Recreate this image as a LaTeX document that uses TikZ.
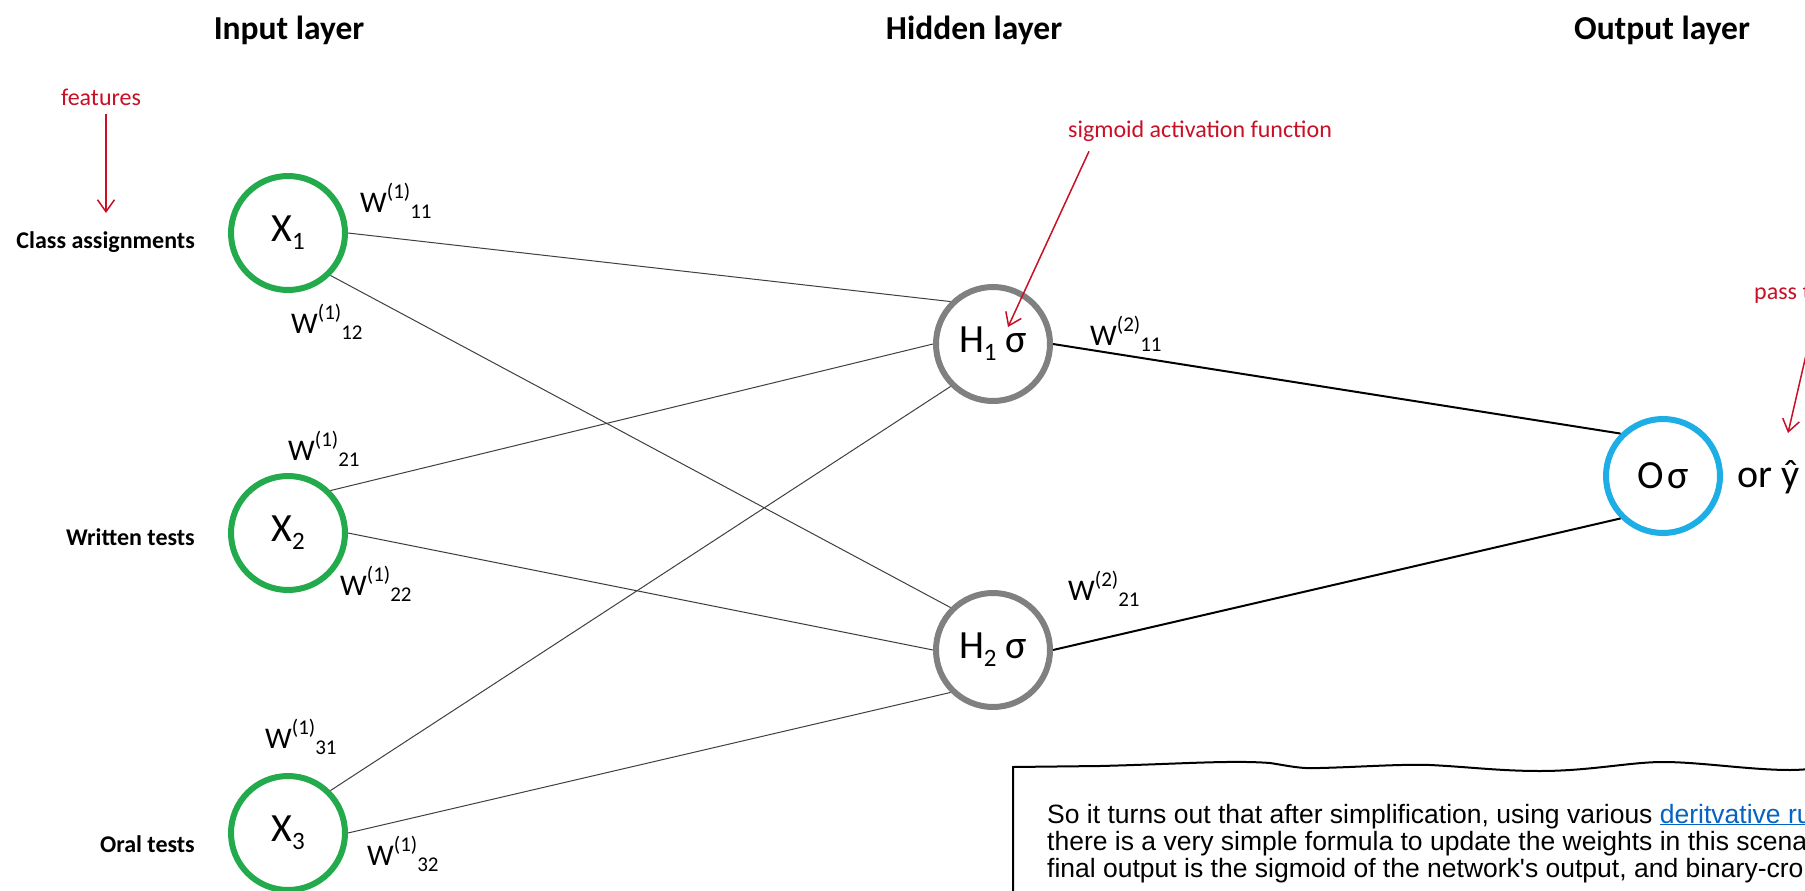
\documentclass[tikz,border=0pt]{standalone}
\usepackage{fontspec}
\setmainfont{Carlito}
\newfontfamily\notefont{Liberation Sans}
\usetikzlibrary{positioning,arrows.meta}

\definecolor{ingreen}{RGB}{34,170,76}
\definecolor{hidgray}{RGB}{128,128,128}
\definecolor{outblue}{RGB}{30,174,230}
\definecolor{notered}{RGB}{200,16,38}
\definecolor{linkblue}{RGB}{5,99,193}

% weight label: W, superscript, then subscript
\newcommand{\wlab}[2]{W\raisebox{14pt}{\fontsize{21}{21}\selectfont(#1)}\raisebox{-6pt}{\fontsize{21}{21}\selectfont #2}}
% neuron subscript
\newcommand{\nsub}[1]{\raisebox{-8pt}{\fontsize{25}{25}\selectfont #1}}

\tikzset{
  neuron/.style={circle, minimum size=114pt, inner sep=0pt, line width=6pt, font=\fontsize{40}{40}\selectfont},
  input/.style={neuron, draw=ingreen},
  hidden/.style={neuron, draw=hidgray},
  output/.style={neuron, draw=outblue},
  layer/.style={font=\bfseries\fontsize{33.5}{33.5}\selectfont},
  feature/.style={anchor=base east, inner sep=0pt, font=\bfseries\fontsize{24}{24}\selectfont},
  weight/.style={anchor=base west, inner sep=0pt, font=\fontsize{30}{30}\selectfont},
  remark/.style={inner sep=0pt, text=notered, font=\fontsize{24}{24}\selectfont},
  noteline/.style={anchor=base west, inner sep=0pt, font=\notefont\fontsize{26.5}{27}\selectfont},
  link/.style={draw=black!75, line width=1pt},
  outlink/.style={draw=black, line width=2pt},
  pointer/.style={draw=notered, line width=1.5pt, -{Straight Barb[length=12pt,width=17pt]}}
}

\begin{document}
\begin{tikzpicture}[x=1pt,y=-1pt,node distance=300pt]
  \clip (0,0) rectangle (1805,891);
  \fill[white] (0,0) rectangle (1805,891);

  % Layer titles
  \node[layer] (inlab) at (289,30) {Input layer};
  \node[layer] (hidlab) at (974,30) {Hidden layer};
  \node[layer] (outlab) at (1662,30) {Output layer};

  % Neurons
  \node[input] (x1) at (288,233) {X\nsub{1}};
  \node[input, below of=x1] (x2) {X\nsub{2}};
  \node[input, below of=x2] (x3) {X\nsub{3}};
  \node[hidden] (h1) at (993,344) {H\nsub{1} σ};
  \node[hidden, below of=h1, node distance=306pt] (h2) {H\nsub{2} σ};
  \node[output] (o) at (1663,476) {O\kern4pt σ};
  \node[anchor=base west, inner sep=0pt, font=\fontsize{40}{40}\selectfont] (yhat) at (1737,487) {or ŷ};

  % Features
  \node[feature] (f1) at (195,248) {Class assignments};
  \node[feature] (f2) at (195,545) {Written tests};
  \node[feature] (f3) at (195,852) {Oral tests};

  % Connections
  \draw[link] (x1.east) -- (h1.north west);
  \draw[link] (x1.south east) -- (h2.north west);
  \draw[link] (x2.north east) -- (h1.west);
  \draw[link] (x2.east) -- (h2.west);
  \draw[link] (x3.north east) -- (h1.south west);
  \draw[link] (x3.east) -- (h2.south west);
  \draw[outlink] (h1.east) -- (o.north west);
  \draw[outlink] (h2.east) -- (o.south west);

  % Weights
  \node[weight] (w111) at (360,212) {\wlab{1}{11}};
  \node[weight] (w112) at (291,333) {\wlab{1}{12}};
  \node[weight] (w121) at (288,460) {\wlab{1}{21}};
  \node[weight] (w122) at (340,595) {\wlab{1}{22}};
  \node[weight] (w131) at (265,748) {\wlab{1}{31}};
  \node[weight] (w132) at (367,865) {\wlab{1}{32}};
  \node[weight] (w211) at (1090,345) {\wlab{2}{11}};
  \node[weight] (w221) at (1068,600) {\wlab{2}{21}};

  % Remarks
  \node[remark, anchor=base] (feat) at (101,105) {features};
  \coordinate (featend) at (106,213);
  \draw[pointer] ([yshift=-9pt]featend |- feat.south) -- (featend);

  \node[remark, anchor=base west] (sig) at (1068,137) {sigmoid activation function};
  \coordinate (sigend) at (1008,327);
  \draw[pointer] ([xshift=21pt,yshift=-10pt]sig.south west) -- (sigend);

  \node[remark, anchor=base west] (pass) at (1754,299) {pass t};
  \coordinate (passstart) at (1815,316);
  \coordinate (passend) at (1788,433);
  \draw[pointer] (passstart) -- (passend);

  % Note box
  \draw[line width=2pt] (1013,900) -- (1013,767) -- (1100,766)
    .. controls (1180,764) and (1230,760) .. (1270,763)
    .. controls (1290,766) and (1300,769) .. (1320,768)
    .. controls (1360,767) and (1400,764) .. (1430,765)
    .. controls (1470,767) and (1500,771) .. (1540,771)
    .. controls (1590,771) and (1630,762) .. (1663,762)
    .. controls (1700,762) and (1750,770) .. (1790,770)
    .. controls (1800,770) and (1810,769) .. (1820,768);
  \node[noteline] (note1) at (1047,823)
    {So it turns out that after simplification, using various \textcolor{linkblue}{\underline{deritvative ru}}};
  \node[noteline] (note2) at (1047,850)
    {there is a very simple formula to update the weights in this scena};
  \node[noteline] (note3) at (1047,877)
    {final output is the sigmoid of the network\textquotesingle s output, and binary-cro};
\end{tikzpicture}
\end{document}
